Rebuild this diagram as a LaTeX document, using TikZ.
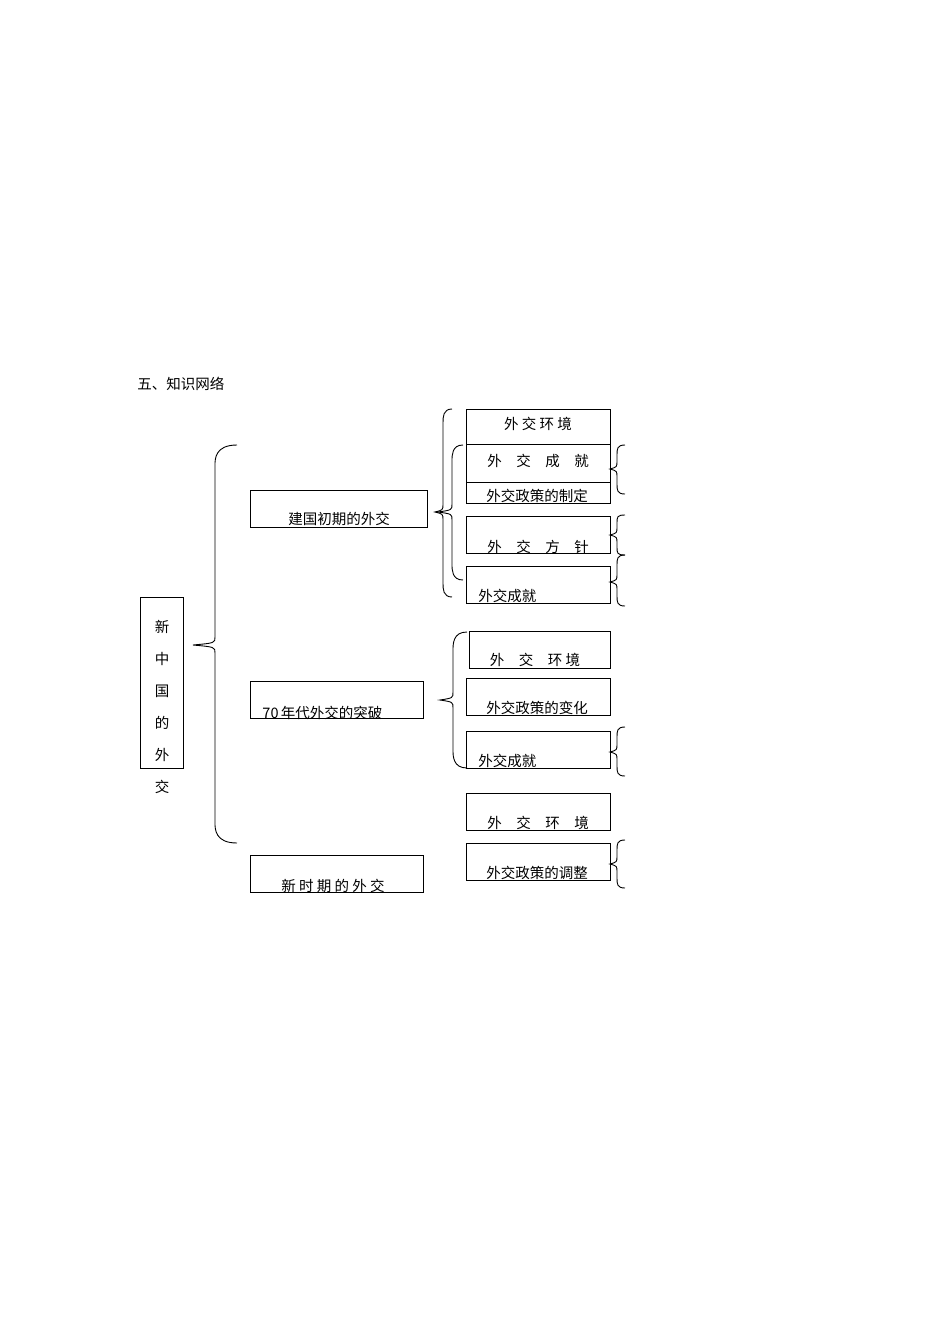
\documentclass[tikz,border=0pt]{standalone}
\usepackage{fontspec}
\setmainfont{Liberation Serif}
\newfontfamily\cjk{Noto Sans CJK SC}
\begin{document}
\begin{tikzpicture}[x=1pt,y=-1pt,line width=0.9pt,
  bx/.style={draw,rectangle,minimum height=#1},
  t/.style={font=\cjk\fontsize{14.5}{16}\selectfont,inner sep=0pt,anchor=base}]
\useasboundingbox (0,0) rectangle (950,1344);
\newcommand{\brc}[7]{% endx top midx tipx ym bottom r
  \draw (#1,#2) .. controls (#3,#2) and (#3,#2+#7) .. (#3,#2+#7+6) -- (#3,#5-8) .. controls (#3,#5-2) .. (#4,#5) .. controls (#3,#5+2) .. (#3,#5+8) -- (#3,#6-#7-6) .. controls (#3,#6-#7) and (#3,#6) .. (#1,#6);}
\node[t,anchor=base west] (title) at (137,389) {五、知识网络};
% root
\draw (140,597) rectangle (183,768);
\foreach \c/\y in {新/632,中/664,国/696,的/728,外/760,交/792}
  \node[t] at (162,\y) {\c};
\brc{237}{445}{215}{193}{645}{843}{14}
% level 2
\draw (250,490) rectangle (427,527); \node[t] (a) at (339,524) {建国初期的外交};
\draw (250,681) rectangle (423,718); \node[t,anchor=base west,font=\cjk\fontsize{14.5}{16}\selectfont] (b) at (262,718) {70\,年代外交的突破};
\draw (250,855) rectangle (423,892); \node[t] (c) at (333,891) {新\ 时\ 期\ 的\ 外\ 交};
% braces of level 2
\brc{452}{409}{443}{435}{512}{597}{8}
\brc{463}{445}{452}{438}{512}{580}{10}
\brc{467}{632}{453}{440}{700}{768}{12}
% right boxes
\draw (466,409) rectangle (610,444); \node[t] at (538,429) {外\ 交\ 环\ 境};
\draw (466,444) rectangle (610,482); \node[t] at (538,466) {外\quad 交\quad 成\quad 就};
\draw (466,482) rectangle (610,503); \node[t] at (537,501) {外交政策的制定};
\draw (466,516) rectangle (610,553); \node[t] at (538,552) {外\quad 交\quad 方\quad 针};
\draw (466,566) rectangle (610,603); \node[t,anchor=base west] at (478,601) {外交成就};
\draw (469,631) rectangle (610,668); \node[t] at (535,665) {外\quad 交\quad 环\ 境};
\draw (466,678) rectangle (610,715); \node[t] at (537,713) {外交政策的变化};
\draw (466,731) rectangle (610,768); \node[t,anchor=base west] at (478,766) {外交成就};
\draw (466,793) rectangle (610,830); \node[t] at (538,828) {外\quad 交\quad 环\quad 境};
\draw (466,843) rectangle (610,880); \node[t] at (537,878) {外交政策的调整};
% small right braces
\brc{625}{445}{617}{610}{469}{494}{4}
\brc{625}{515}{617}{610}{535}{555}{2}
\brc{625}{555}{617}{610}{582}{606}{4}
\brc{625}{727}{617}{610}{752}{776}{4}
\brc{625}{840}{617}{610}{864}{888}{4}
\end{tikzpicture}
\end{document}
